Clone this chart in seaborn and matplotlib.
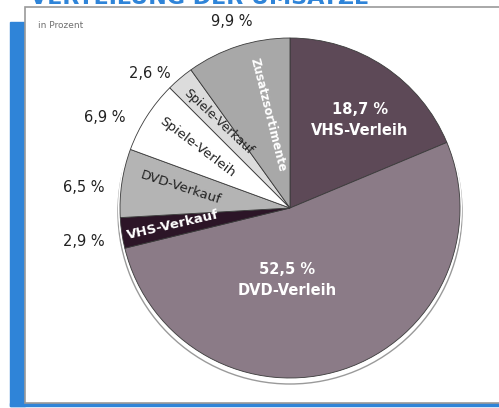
import numpy as np
import seaborn as sns
import matplotlib.pyplot as plt
from matplotlib.patches import Rectangle, Circle

# data
categories = ["VHS-Verleih", "DVD-Verleih", "VHS-Verkauf", "DVD-Verkauf",
              "Spiele-Verleih", "Spiele-Verkauf", "Zusatzsortimente"]
shares = [18.7, 52.5, 2.9, 6.5, 6.9, 2.6, 9.9]
share_labels = ["18,7 %", "52,5 %", "2,9 %", "6,5 %", "6,9 %", "2,6 %", "9,9 %"]
colors = ["#5d4957", "#8b7b87", "#2c1527", "#b4b4b4",
          "#ffffff", "#dcdcdc", "#a8a8a8"]

sns.set_theme(style="white")
plt.rcParams['font.family'] = ['DejaVu Sans']

W, H = 499, 408
fig = plt.figure(figsize=(W / 100, H / 100), dpi=100)
ax = fig.add_axes([0, 0, 1, 1])
ax.set_xlim(0, W)
ax.set_ylim(0, H)
ax.set_aspect('equal')
ax.axis('off')

def py(y):
    # pixel row from top -> data y
    return H - y

# panel frame
ax.add_patch(Rectangle((10, py(406)), 15, 384, color="#2f84d8", zorder=1))
ax.add_patch(Rectangle((10, py(406)), 489, 3, color="#2f84d8", zorder=1))
ax.add_patch(Rectangle((25, py(403)), 480, 396, facecolor="white",
                       edgecolor="#9a9a9a", lw=1.2, zorder=2))

# title sits mostly above the picture, as in the scanned original
ax.text(30, py(4), "VERTEILUNG DER UMSÄTZE", color="#2f84d8",
        fontsize=16, fontweight="bold", ha="left", va="baseline", zorder=3)
ax.text(38, py(25), "in Prozent", color="#707070", fontsize=6.5,
        ha="left", va="center", zorder=3)

cx, cy, r = 290, py(208), 170

# thin shadow ring
ax.add_patch(Circle((cx, cy - 4), r + 2, facecolor="none",
                    edgecolor="#9a9a9a", lw=1, zorder=3))
ax.add_patch(Circle((cx, cy), r + 2, facecolor="white",
                    edgecolor="none", zorder=3))

wedges, _ = ax.pie(shares, colors=colors, startangle=90, counterclock=False,
                   center=(cx, cy), radius=r, frame=True,
                   wedgeprops=dict(edgecolor="#3a3a3a", linewidth=0.6))
for w in wedges:
    w.set_zorder(4)
ax.set_xlim(0, W)
ax.set_ylim(0, H)
ax.axis('off')

# labels inside slices
inside = [
    (360, 120, "18,7 %\nVHS-Verleih", 0, "white", 10.5),
    (287, 280, "52,5 %\nDVD-Verleih", 0, "white", 10.5),
    (173, 225, "VHS-Verkauf", 13, "white", 9.5),
    (181, 188, "DVD-Verkauf", -18, "#222222", 9.5),
    (197, 147, "Spiele-Verleih", -37, "#222222", 9.5),
    (218, 122, "Spiele-Verkauf", -43, "#222222", 9),
    (268, 115, "Zusatzsortimente", -76, "white", 8.5),
]
for x, y, t, rot, c, fs in inside:
    ax.text(x, py(y), t, color=c, fontsize=fs,
            fontweight="bold" if c == "white" else "normal",
            rotation=rot, rotation_mode="anchor", ha="center", va="center",
            linespacing=1.5, zorder=6)

# outside percentages
outside = [(84, 241, share_labels[2]), (84, 188, share_labels[3]),
           (105, 118, share_labels[4]), (150, 73, share_labels[5]),
           (232, 22, share_labels[6])]
for x, y, t in outside:
    ax.text(x, py(y), t, color="#222222", fontsize=10.5,
            ha="center", va="center", zorder=6)

fig.savefig("out.png", dpi=100)
